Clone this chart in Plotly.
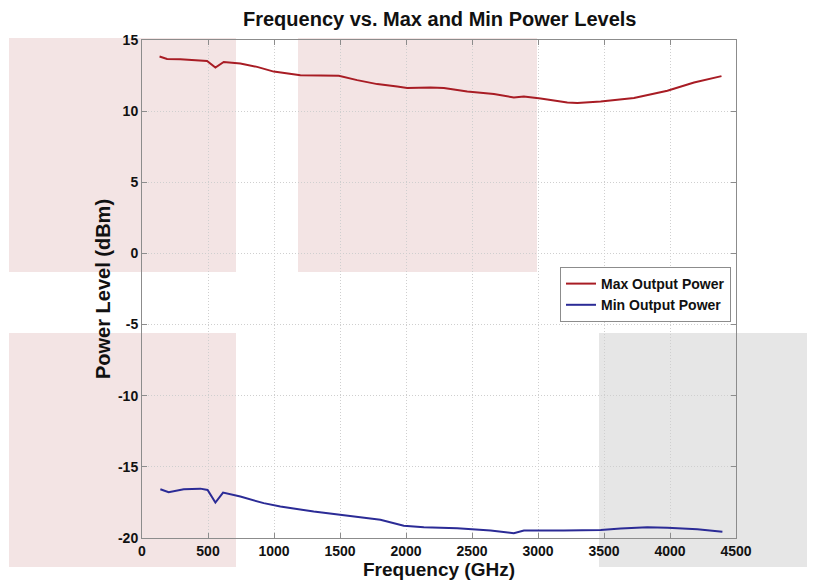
import plotly.graph_objects as go

# ---- data ----
max_freq = [133, 190, 290, 417, 493, 556, 619, 745, 872, 998, 1124, 1200, 1352, 1491, 1630,
            1782, 1933, 2009, 2186, 2287, 2464, 2666, 2817, 2893, 3020, 3222, 3298, 3475,
            3727, 3980, 4182, 4390]
max_power = [13.84, 13.67, 13.65, 13.58, 13.53, 13.07, 13.46, 13.35, 13.11, 12.78, 12.60, 12.53,
             12.51, 12.48, 12.18, 11.90, 11.73, 11.62, 11.66, 11.62, 11.38, 11.20, 10.96, 11.03,
             10.89, 10.61, 10.57, 10.68, 10.92, 11.43, 12.01, 12.46]

min_freq = [139, 202, 316, 442, 497, 556, 614, 745, 922, 1048, 1301, 1554, 1806, 1983, 2135,
            2388, 2565, 2641, 2817, 2893, 3196, 3475, 3626, 3828, 3980, 4207, 4397]
min_power = [-16.57, -16.78, -16.57, -16.53, -16.62, -17.51, -16.81, -17.09, -17.55, -17.79,
             -18.14, -18.44, -18.72, -19.14, -19.24, -19.31, -19.43, -19.47, -19.66, -19.47,
             -19.47, -19.43, -19.33, -19.24, -19.28, -19.38, -19.56]

x_ticks = [0, 500, 1000, 1500, 2000, 2500, 3000, 3500, 4000, 4500]
y_ticks = [15, 10, 5, 0, -5, -10, -15, -20]

OFF = 8  # page body margin
W, H = 815 - OFF, 583 - OFF
L, R, T, B = 142 - OFF, 79, 40 - OFF, 45
PW, PH = W - L - R, H - T - B


def px(xp):
    """screen x pixel -> paper x"""
    return (xp - OFF - L) / PW


def py(yp):
    """screen y pixel -> paper y"""
    return (H - B - (yp - OFF)) / PH


FONT = "Liberation Sans, Arial, sans-serif"

fig = go.Figure()
fig.add_trace(go.Scatter(x=max_freq, y=max_power, mode="lines", name="Max Output Power",
                         line=dict(color="#a81c24", width=2)))
fig.add_trace(go.Scatter(x=min_freq, y=min_power, mode="lines", name="Min Output Power",
                         line=dict(color="#2b2b96", width=2)))

axis_common = dict(
    showline=True, linecolor="#8c8c8c", linewidth=1, mirror="ticks",
    ticks="inside", ticklen=5, tickcolor="#8c8c8c",
    showgrid=True, gridcolor="#cfcfcf", griddash="1px,2px", gridwidth=1,
    zeroline=False,
    tickfont=dict(family=FONT, size=14, color="#111111", weight="bold"),
)

fig.update_xaxes(range=[0, 4500], tickvals=x_ticks, ticktext=[str(v) for v in x_ticks], **axis_common)
fig.update_yaxes(range=[-20, 15], tickvals=y_ticks, ticktext=[str(v) for v in y_ticks], **axis_common)

shapes = []
pink = "#f3e4e4"
gray = "#e6e6e6"
for (x0, y0, x1, y1, c) in [(9, 38, 236, 272, pink), (298, 38, 537, 272, pink),
                            (9, 333, 236, 567, pink), (599, 333, 815, 567, gray)]:
    shapes.append(dict(type="rect", xref="paper", yref="paper", x0=px(x0), x1=px(x1),
                       y0=py(y1), y1=py(y0), fillcolor=c, line=dict(width=0), layer="below"))

annotations = [
    dict(text="<b>Frequency vs. Max and Min Power Levels</b>", xref="paper", yref="paper",
         x=0.5, y=py(19), xanchor="center", yanchor="middle", showarrow=False,
         font=dict(family=FONT, size=20, color="#111111")),
    dict(text="<b>Frequency (GHz)</b>", xref="paper", yref="paper",
         x=0.5, y=py(569), xanchor="center", yanchor="middle", showarrow=False,
         font=dict(family=FONT, size=19, color="#111111")),
    dict(text="<b>Power Level (dBm)</b>", xref="paper", yref="paper",
         x=px(103), y=0.5, xanchor="center", yanchor="middle", showarrow=False, textangle=-90,
         font=dict(family=FONT, size=20, color="#111111")),
]

fig.update_layout(
    width=W, height=H,
    margin=dict(l=L, r=R, t=T, b=B),
    paper_bgcolor="white", plot_bgcolor="rgba(0,0,0,0)",
    shapes=shapes, annotations=annotations,
    showlegend=True,
    legend=dict(x=px(731), y=py(267), xanchor="right", yanchor="top",
                bgcolor="white", bordercolor="#8c8c8c", borderwidth=1,
                font=dict(family=FONT, size=14, color="#111111", weight="bold"),
                tracegroupgap=0, itemwidth=30),
)

fig.write_html("out.html")
